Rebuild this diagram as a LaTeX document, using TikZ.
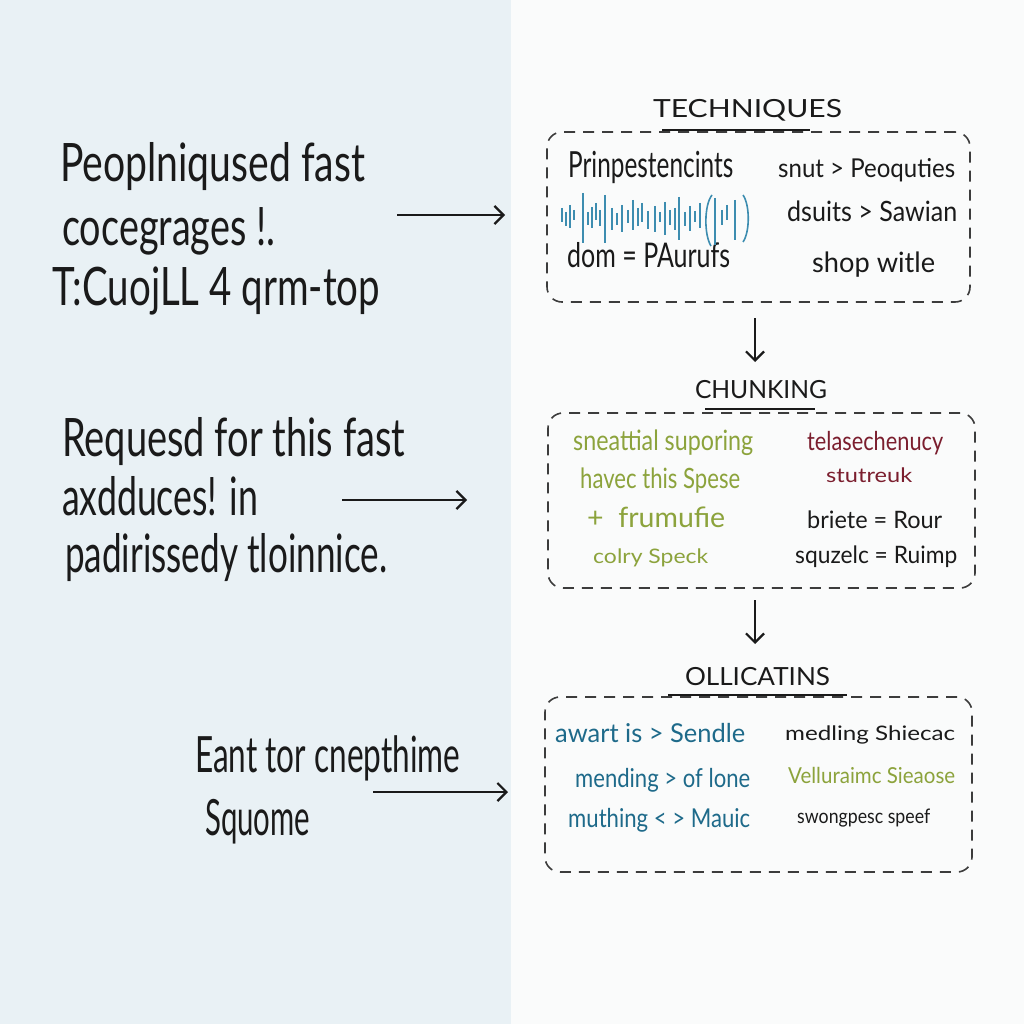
\documentclass[tikz,border=0pt]{standalone}
\usepackage{fontspec}
\setmainfont{Lato}
\usepackage{graphicx}
\usetikzlibrary{arrows.meta}
\definecolor{leftbg}{HTML}{E9F1F5}
\definecolor{rightbg}{HTML}{FAFBFB}
\definecolor{ink}{HTML}{1A1A1A}
\definecolor{inkblue}{HTML}{1E6A8A}
\definecolor{inkgreen}{HTML}{8CA33C}
\definecolor{inkred}{HTML}{7B1E2E}
\definecolor{wave}{HTML}{3D8DB0}
\newcommand\hw[2]{\resizebox{#1pt}{\height}{#2}}
\newcommand\fs[1]{\fontsize{#1}{#1}\selectfont}
\begin{document}
\begin{tikzpicture}[x=1pt,y=-1pt,
  txt/.style={inner sep=0pt, anchor=base west, text=ink},
  ttl/.style={inner sep=0pt, anchor=base, text=ink, font=\fs{25}},
  dbox/.style={draw=ink!85, line width=1.6pt, dash pattern=on 11pt off 8pt, rounded corners=15pt, inner sep=0pt},
  uline/.style={draw=ink, line width=2.6pt},
  arr/.style={draw=ink, line width=2.2pt, -{Straight Barb[length=9pt,width=18pt,line width=2.2pt]}},
  wv/.style={draw=wave, line width=1.6pt}]
\useasboundingbox (0,0) rectangle (1024,1024);
\fill[leftbg] (0,0) rectangle (511,1024);
\fill[rightbg] (511,0) rectangle (1024,1024);

% left column
\node[txt, font=\fs{53}] (l1a) at (60,182) {\hw{305}{Peoplniqused fast}};
\node[txt, font=\fs{53}] (l1b) at (62,245) {\hw{213}{cocegrages !.}};
\node[txt, font=\fs{53}] (l1c) at (52,305) {\hw{328}{T:CuojLL 4 qrm-top}};
\coordinate (h1s) at (397,215);
\coordinate (h1e) at (505,215);
\draw[arr] (h1s) -- (h1e);

\node[txt, font=\fs{53}] (l2a) at (62,456) {\hw{343}{Requesd for this fast}};
\node[txt, font=\fs{53}] (l2b) at (62,515) {\hw{196}{axdduces! in}};
\node[txt, font=\fs{53}] (l2c) at (65,572) {\hw{322}{padirissedy tloinnice.}};
\coordinate (h2s) at (342,500);
\coordinate (h2e) at (467,500);
\draw[arr] (h2s) -- (h2e);

\node[txt, font=\fs{50}] (l3a) at (195,772) {\hw{265}{Eant tor cnepthime}};
\node[txt, font=\fs{50}] (l3b) at (205,835) {\hw{105}{Squome}};
\coordinate (h3s) at (373,792);
\coordinate (h3e) at (508,792);
\draw[arr] (h3s) -- (h3e);

% box 1
\node[dbox, minimum width=423pt, minimum height=170pt] (box1) at (758.5,217) {};
\node[ttl] (t1) at (747.5,118) {\hw{189}{TECHNIQUES}};
\draw[uline] (662,130) -- (810,130);
\node[txt, font=\fs{36}] (b1a) at (568,178) {\hw{165}{Prinpestencints}};
\node[txt, font=\fs{34}] (b1b) at (567,267) {\hw{163}{dom = PAurufs}};
\node[txt, font=\fs{26}] (b1c) at (778,178) {\hw{177}{snut > Peoquties}};
\node[txt, font=\fs{28}] (b1d) at (787,222) {\hw{170}{dsuits > Sawian}};
\node[txt, font=\fs{28}] (b1e) at (812,272) {\hw{123}{shop witle}};
\foreach \x/\a/\b in {562/208/222,566/212/226,570/205/228,574/210/220,583/193/243,588/212/225,592/207/228,596/203/220,600/210/226,605/195/243,612/208/230,617/213/225,622/205/232,628/210/223,633/200/230,638/208/226,642/203/222,648/211/229,655/206/232,660/212/222,665/202/235,670/210/225,675/208/230,679/197/240,685/212/226,690/206/231,695/211/222,700/203/228,715/198/245,722/210/225,727/205/220,735/200/240}
  \draw[wv] (\x,\a) -- (\x,\b);
\draw[wv] (712,195) .. controls (704,205) and (704,235) .. (711,246);
\draw[wv] (743,195) .. controls (750,205) and (750,232) .. (743,242);

\coordinate (d1s) at (755,318);
\coordinate (d1e) at (755,362);
\draw[arr] (d1s) -- (d1e);

% box 2
\node[dbox, minimum width=427pt, minimum height=175pt] (box2) at (761.5,500.5) {};
\node[ttl] (t2) at (761,398) {\hw{132}{CHUNKING}};
\draw[uline] (705,409) -- (815,409);
\node[txt, text=inkgreen, font=\fs{28}] (b2a) at (573,450) {\hw{180}{sneattial suporing}};
\node[txt, text=inkgreen, font=\fs{28}] (b2b) at (580,488) {\hw{160}{havec this Spese}};
\node[txt, text=inkgreen, font=\fs{28}] (b2c) at (587,527) {\hw{138}{+ \ frumufie}};
\node[txt, text=inkgreen, font=\fs{20}] (b2d) at (593,563) {\hw{115}{colry Speck}};
\node[txt, text=inkred, font=\fs{26}] (b2e) at (807,450) {\hw{136}{telasechenucy}};
\node[txt, text=inkred, font=\fs{20}] (b2f) at (826,482) {\hw{86}{stutreuk}};
\node[txt, font=\fs{24}] (b2g) at (807,528) {\hw{135}{briete = Rour}};
\node[txt, font=\fs{24}] (b2h) at (795,563) {\hw{162}{squzelc = Ruimp}};

\coordinate (d2s) at (755,600);
\coordinate (d2e) at (755,644);
\draw[arr] (d2s) -- (d2e);

% box 3
\node[dbox, minimum width=427pt, minimum height=175pt] (box3) at (758.5,784.5) {};
\node[ttl] (t3) at (757.5,685) {\hw{145}{OLLICATINS}};
\draw[uline] (668,695) -- (847,695);
\node[txt, text=inkblue, font=\fs{26}] (b3a) at (555,742) {\hw{190}{awart is > Sendle}};
\node[txt, text=inkblue, font=\fs{26}] (b3b) at (575,787) {\hw{175}{mending > of lone}};
\node[txt, text=inkblue, font=\fs{26}] (b3c) at (568,827) {\hw{182}{muthing < > Mauic}};
\node[txt, font=\fs{20}] (b3d) at (785,740) {\hw{170}{medling Shiecac}};
\node[txt, text=inkgreen, font=\fs{22}] (b3e) at (788,783) {\hw{167}{Velluraimc Sieaose}};
\node[txt, font=\fs{20}] (b3f) at (797,823) {\hw{133}{swongpesc speef}};
\end{tikzpicture}
\end{document}
